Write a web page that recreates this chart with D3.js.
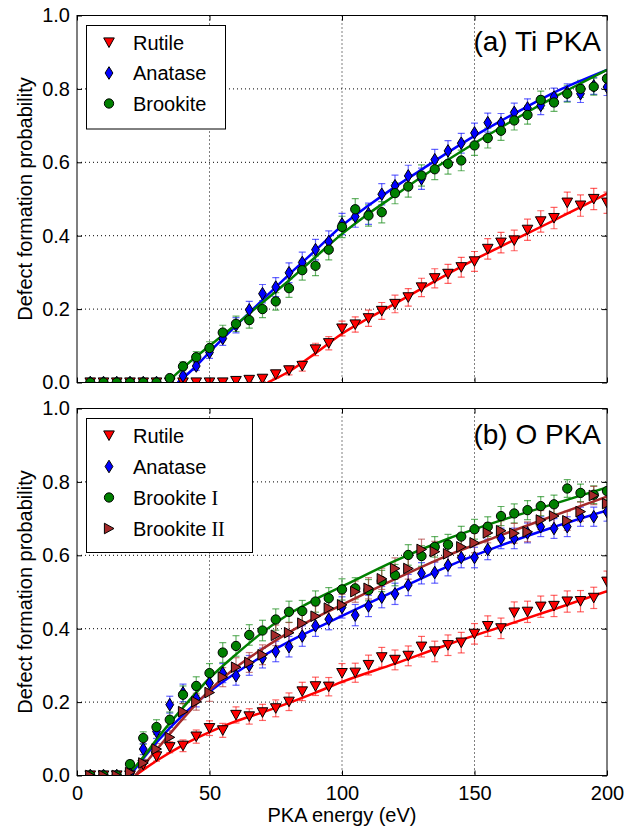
<!DOCTYPE html>
<html>
<head>
<meta charset="utf-8">
<script src="https://cdn.jsdelivr.net/npm/d3@7"></script>
<style>
  body { margin: 0; background: #fff; }
  svg { display: block; font-family: "Liberation Sans", Arial, sans-serif; }
</style>
</head>
<body>
<div id="chart"></div>
<script>
// PKA energies (eV)
const energy = [5, 10, 15, 20, 25, 30, 35, 40, 45, 50, 55, 60, 65, 70, 75, 80, 85, 90, 95, 100,
    105, 110, 115, 120, 125, 130, 135, 140, 145, 150, 155, 160, 165, 170, 175, 180, 185, 190, 195, 200];

// (a) Ti PKA
const tiRutile = [0, 0, 0, 0, 0, 0, 0, 0, 0, 0, 0, 0.004, 0.007, 0.01, 0.022, 0.033, 0.045, 0.09, 0.107, 0.147,
    0.158, 0.175, 0.195, 0.214, 0.232, 0.259, 0.284, 0.296, 0.314, 0.33, 0.364, 0.381, 0.387, 0.416, 0.439, 0.448, 0.49, 0.482, 0.5, 0.49];
const tiRutileErr = [0, 0, 0, 0, 0, 0, 0, 0, 0, 0, 0, 0.005, 0.006, 0.008, 0.01, 0.012, 0.014, 0.017, 0.018, 0.02,
    0.021, 0.022, 0.023, 0.024, 0.024, 0.025, 0.026, 0.026, 0.027, 0.027, 0.028, 0.028, 0.028, 0.029, 0.029, 0.029, 0.029, 0.029, 0.029, 0.029];
const tiAnatase = [0, 0, 0, 0, 0, 0, 0, 0.018, 0.045, 0.082, 0.12, 0.156, 0.198, 0.242, 0.26, 0.299, 0.327, 0.362, 0.384, 0.432,
    0.452, 0.46, 0.513, 0.536, 0.563, 0.555, 0.607, 0.631, 0.652, 0.68, 0.708, 0.707, 0.736, 0.748, 0.755, 0.778, 0.79, 0.787, 0.808, 0.805];
const tiAnataseErr = [0, 0, 0, 0, 0, 0, 0, 0.008, 0.012, 0.016, 0.019, 0.021, 0.023, 0.025, 0.026, 0.027, 0.028, 0.028, 0.029, 0.029,
    0.029, 0.029, 0.029, 0.029, 0.029, 0.029, 0.028, 0.028, 0.027, 0.027, 0.026, 0.026, 0.025, 0.025, 0.025, 0.024, 0.024, 0.024, 0.023, 0.023];
const tiBrookite = [0, 0, 0, 0, 0, 0, 0.012, 0.044, 0.069, 0.094, 0.136, 0.16, 0.17, 0.2, 0.221, 0.257, 0.306, 0.318, 0.362, 0.424,
    0.472, 0.455, 0.464, 0.516, 0.534, 0.564, 0.581, 0.596, 0.605, 0.646, 0.666, 0.686, 0.714, 0.729, 0.77, 0.763, 0.787, 0.8, 0.806, 0.828];
const tiBrookiteErr = [0, 0, 0, 0, 0, 0, 0.006, 0.012, 0.015, 0.017, 0.02, 0.021, 0.022, 0.023, 0.024, 0.025, 0.027, 0.027, 0.028, 0.029,
    0.029, 0.029, 0.029, 0.029, 0.029, 0.029, 0.028, 0.028, 0.028, 0.027, 0.027, 0.026, 0.026, 0.025, 0.024, 0.024, 0.023, 0.023, 0.023, 0.022];

// (a) fitted curves
const tiRutileFitE = [72, 80, 90, 100, 110, 120, 130, 140, 150, 160, 170, 180, 190, 200];
const tiRutileFit = [0, 0.03, 0.08, 0.133, 0.175, 0.215, 0.256, 0.296, 0.335, 0.371, 0.406, 0.442, 0.478, 0.515];
const tiAnataseFitE = [38, 45, 50, 60, 70, 80, 90, 100, 110, 120, 130, 140, 150, 160, 170, 180, 190, 200];
const tiAnataseFit = [0, 0.045, 0.083, 0.155, 0.225, 0.294, 0.36, 0.427, 0.482, 0.533, 0.58, 0.627, 0.672, 0.713, 0.752, 0.79, 0.822, 0.852];
const tiBrookiteFitE = [34, 40, 50, 60, 70, 80, 90, 100, 110, 120, 130, 140, 150, 160, 170, 180, 190, 200];
const tiBrookiteFit = [0, 0.04, 0.1, 0.158, 0.218, 0.278, 0.342, 0.405, 0.46, 0.51, 0.56, 0.607, 0.652, 0.695, 0.737, 0.777, 0.815, 0.852];

// (b) O PKA
const oRutile = [0, 0, 0, 0, 0.029, 0.052, 0.077, 0.081, 0.106, 0.129, 0.123, 0.165, 0.161, 0.172, 0.183, 0.201, 0.229, 0.243, 0.242, 0.279,
    0.28, 0.301, 0.322, 0.315, 0.326, 0.351, 0.338, 0.355, 0.362, 0.386, 0.407, 0.401, 0.444, 0.446, 0.46, 0.462, 0.474, 0.475, 0.484, 0.528];
const oRutileErr = [0, 0, 0, 0, 0.01, 0.013, 0.015, 0.016, 0.018, 0.02, 0.019, 0.022, 0.021, 0.022, 0.023, 0.024, 0.025, 0.025, 0.025, 0.026,
    0.026, 0.027, 0.027, 0.027, 0.027, 0.028, 0.028, 0.028, 0.028, 0.028, 0.028, 0.028, 0.029, 0.029, 0.029, 0.029, 0.029, 0.029, 0.029, 0.029];
const oAnatase = [0, 0, 0, 0.005, 0.072, 0.12, 0.193, 0.225, 0.21, 0.252, 0.279, 0.272, 0.3, 0.32, 0.338, 0.351, 0.38, 0.408, 0.426, 0.458,
    0.437, 0.462, 0.486, 0.495, 0.519, 0.551, 0.553, 0.573, 0.594, 0.594, 0.616, 0.646, 0.646, 0.661, 0.678, 0.673, 0.678, 0.705, 0.705, 0.719];
const oAnataseErr = [0, 0, 0, 0.004, 0.015, 0.019, 0.023, 0.024, 0.023, 0.025, 0.026, 0.026, 0.027, 0.027, 0.028, 0.028, 0.028, 0.029, 0.029, 0.029,
    0.029, 0.029, 0.029, 0.029, 0.029, 0.029, 0.029, 0.029, 0.028, 0.028, 0.028, 0.028, 0.028, 0.027, 0.027, 0.027, 0.027, 0.026, 0.026, 0.026];
const oBrookite1 = [0, 0, 0, 0.031, 0.102, 0.132, 0.152, 0.22, 0.244, 0.279, 0.335, 0.353, 0.383, 0.395, 0.425, 0.446, 0.448, 0.474, 0.483, 0.507,
    0.51, 0.505, 0.53, 0.546, 0.601, 0.598, 0.623, 0.629, 0.651, 0.671, 0.678, 0.707, 0.714, 0.723, 0.734, 0.739, 0.782, 0.77, 0.765, 0.775];
const oBrookite1Err = [0, 0, 0, 0.01, 0.017, 0.02, 0.021, 0.024, 0.025, 0.026, 0.027, 0.028, 0.028, 0.028, 0.029, 0.029, 0.029, 0.029, 0.029, 0.029,
    0.029, 0.029, 0.029, 0.029, 0.028, 0.028, 0.028, 0.028, 0.028, 0.027, 0.027, 0.026, 0.026, 0.026, 0.026, 0.025, 0.024, 0.024, 0.024, 0.024];
const oBrookite2 = [0, 0, 0, 0.008, 0.034, 0.072, 0.104, 0.174, 0.201, 0.226, 0.268, 0.295, 0.308, 0.329, 0.382, 0.389, 0.415, 0.434, 0.456, 0.465,
    0.501, 0.51, 0.536, 0.564, 0.564, 0.616, 0.61, 0.604, 0.623, 0.634, 0.661, 0.667, 0.66, 0.664, 0.696, 0.707, 0.694, 0.719, 0.763, 0.741];
const oBrookite2Err = [0, 0, 0, 0.005, 0.01, 0.015, 0.018, 0.022, 0.023, 0.024, 0.026, 0.026, 0.027, 0.027, 0.028, 0.028, 0.028, 0.029, 0.029, 0.029,
    0.029, 0.029, 0.029, 0.029, 0.029, 0.028, 0.028, 0.028, 0.028, 0.027, 0.027, 0.027, 0.027, 0.027, 0.026, 0.026, 0.026, 0.026, 0.025, 0.025];

// (b) fitted curves
const oRutileFitE = [22, 30, 40, 50, 60, 70, 80, 90, 100, 120, 140, 160, 180, 200];
const oRutileFit = [0, 0.04, 0.083, 0.118, 0.148, 0.172, 0.198, 0.226, 0.255, 0.305, 0.357, 0.405, 0.453, 0.502];
const oAnataseFitE = [20, 30, 40, 50, 60, 70, 80, 90, 100, 120, 140, 160, 180, 200];
const oAnataseFit = [0, 0.09, 0.165, 0.228, 0.28, 0.325, 0.365, 0.4, 0.435, 0.503, 0.57, 0.627, 0.677, 0.722];
const oBrookite1FitE = [19, 25, 30, 40, 50, 60, 70, 80, 90, 100, 120, 140, 160, 180, 200];
const oBrookite1Fit = [0, 0.05, 0.098, 0.185, 0.265, 0.33, 0.39, 0.44, 0.48, 0.515, 0.585, 0.645, 0.695, 0.74, 0.785];
const oBrookite2FitE = [22, 30, 40, 50, 60, 70, 80, 90, 100, 120, 140, 160, 180, 200];
const oBrookite2Fit = [0, 0.07, 0.155, 0.232, 0.295, 0.345, 0.39, 0.43, 0.465, 0.535, 0.6, 0.655, 0.708, 0.76];

const xTicks = [0, 50, 100, 150, 200];
const yTicks = [0, 0.2, 0.4, 0.6, 0.8, 1.0];

const W = 627, H = 834;
const left = 77, right = 607;
const panels = [
    {
        top: 15.5, label: '(a) Ti PKA', showX: false,
        series: [
            { name: 'Rutile', color: '#ff0000', marker: 'tdown', y: tiRutile, err: tiRutileErr, fitE: tiRutileFitE, fit: tiRutileFit },
            { name: 'Anatase', color: '#0000ff', marker: 'diamond', y: tiAnatase, err: tiAnataseErr, fitE: tiAnataseFitE, fit: tiAnataseFit },
            { name: 'Brookite', color: '#008000', marker: 'circle', y: tiBrookite, err: tiBrookiteErr, fitE: tiBrookiteFitE, fit: tiBrookiteFit }
        ]
    },
    {
        top: 408.5, label: '(b) O PKA', showX: true,
        series: [
            { name: 'Rutile', color: '#ff0000', marker: 'tdown', y: oRutile, err: oRutileErr, fitE: oRutileFitE, fit: oRutileFit },
            { name: 'Anatase', color: '#0000ff', marker: 'diamond', y: oAnatase, err: oAnataseErr, fitE: oAnataseFitE, fit: oAnataseFit },
            { name: 'Brookite', roman: 'I', color: '#008000', marker: 'circle', y: oBrookite1, err: oBrookite1Err, fitE: oBrookite1FitE, fit: oBrookite1Fit },
            { name: 'Brookite', roman: 'II', color: '#a52a2a', marker: 'tright', y: oBrookite2, err: oBrookite2Err, fitE: oBrookite2FitE, fit: oBrookite2Fit }
        ]
    }
];
const panelH = 367;

function markerPath(type) {
    if (type === 'tdown') return 'M0,5L-5.3,-4.6L5.3,-4.6Z';
    if (type === 'tright') return 'M5,0L-4.6,-5.3L-4.6,5.3Z';
    if (type === 'diamond') return 'M0,-6.3L3.9,0L0,6.3L-3.9,0Z';
    return d3.symbol(d3.symbolCircle, 68)();
}

const svg = d3.select('#chart').append('svg').attr('width', W).attr('height', H);

const x = d3.scaleLinear().domain([0, 200]).range([left, right]);

panels.forEach((p, pi) => {
    const y = d3.scaleLinear().domain([0, 1]).range([p.top + panelH, p.top]);
    const g = svg.append('g');

    // 网格
    g.append('g').selectAll('line').data(xTicks.slice(1, -1)).join('line')
        .attr('x1', d => x(d)).attr('x2', d => x(d))
        .attr('y1', p.top).attr('y2', p.top + panelH)
        .attr('stroke', '#000').attr('stroke-width', 1).attr('stroke-dasharray', '1,3');
    g.append('g').selectAll('line').data(yTicks.slice(1, -1)).join('line')
        .attr('x1', left).attr('x2', right)
        .attr('y1', d => y(d)).attr('y2', d => y(d))
        .attr('stroke', '#000').attr('stroke-width', 1).attr('stroke-dasharray', '1,3');

    const clipId = 'clip' + pi;
    svg.append('clipPath').attr('id', clipId)
        .append('rect').attr('x', left).attr('y', p.top).attr('width', right - left).attr('height', panelH);
    const plot = g.append('g').attr('clip-path', `url(#${clipId})`);

    // 误差棒
    p.series.forEach(s => {
        const eg = plot.append('g').attr('stroke', s.color).attr('stroke-opacity', 0.6).attr('stroke-width', 1.2);
        energy.forEach((e, i) => {
            if (!s.err[i]) return;
            const y1 = y(s.y[i] - s.err[i]), y2 = y(s.y[i] + s.err[i]);
            eg.append('line').attr('x1', x(e)).attr('x2', x(e)).attr('y1', y1).attr('y2', y2);
            eg.append('line').attr('x1', x(e) - 3.5).attr('x2', x(e) + 3.5).attr('y1', y1).attr('y2', y1);
            eg.append('line').attr('x1', x(e) - 3.5).attr('x2', x(e) + 3.5).attr('y1', y2).attr('y2', y2);
        });
    });

    // 拟合曲线
    const line = d3.line().x(d => x(d[0])).y(d => y(d[1])).curve(d3.curveMonotoneX);
    p.series.forEach(s => {
        plot.append('path')
            .datum(d3.zip(s.fitE, s.fit))
            .attr('fill', 'none').attr('stroke', s.color).attr('stroke-width', 2.5)
            .attr('d', line);
    });

    // 数据点
    p.series.forEach(s => {
        plot.append('g').selectAll('path').data(energy).join('path')
            .attr('d', markerPath(s.marker))
            .attr('transform', (e, i) => `translate(${x(e)},${y(s.y[i])})`)
            .attr('fill', s.color).attr('stroke', '#000').attr('stroke-width', 1);
    });

    // 轴
    const yAxis = d3.axisLeft(y).tickValues(yTicks).tickFormat(d3.format('.1f')).tickSize(-5).tickSizeOuter(0).tickPadding(7);
    g.append('g').attr('transform', `translate(${left},0)`).call(yAxis);
    g.append('g').attr('transform', `translate(${right},0)`)
        .call(d3.axisRight(y).tickValues(yTicks).tickSize(-5).tickSizeOuter(0).tickFormat(''));
    const xAxis = d3.axisBottom(x).tickValues(xTicks).tickSize(-5).tickSizeOuter(0).tickPadding(10);
    if (!p.showX) xAxis.tickFormat('');
    g.append('g').attr('transform', `translate(0,${p.top + panelH})`).call(xAxis);
    g.append('g').attr('transform', `translate(0,${p.top})`)
        .call(d3.axisTop(x).tickValues(xTicks).tickSize(-5).tickSizeOuter(0).tickFormat(''));
    g.selectAll('.domain').remove();
    g.selectAll('.tick line').attr('stroke', '#000');
    g.selectAll('.tick text').style('font-size', '20px').style('font-family', '"Liberation Sans", Arial, sans-serif').attr('fill', '#000');

    g.append('rect')
        .attr('x', left).attr('y', p.top).attr('width', right - left).attr('height', panelH)
        .attr('fill', 'none').attr('stroke', '#000').attr('stroke-width', 1);

    // 纵轴标题
    g.append('text')
        .attr('transform', `translate(32,${p.top + panelH / 2}) rotate(-90)`)
        .attr('text-anchor', 'middle')
        .style('font-size', '20px')
        .text('Defect formation probability');

    // 面板标签
    g.append('text')
        .attr('x', right - 6).attr('y', p.top + 35)
        .attr('text-anchor', 'end')
        .style('font-size', '28px')
        .text(p.label);

    // 图例
    const n = p.series.length;
    const lg = g.append('g');
    const boxW = n === 3 ? 139 : 166;
    const rowH = n === 3 ? 30.5 : 31;
    lg.append('rect')
        .attr('x', 86.5).attr('y', p.top + 10)
        .attr('width', boxW).attr('height', 16 + rowH * n - 6 + (n === 3 ? 2 : 0))
        .attr('fill', '#fff').attr('stroke', '#000').attr('stroke-width', 1);
    p.series.forEach((s, i) => {
        const cy = p.top + 27 + i * rowH;
        lg.append('path').attr('d', markerPath(s.marker))
            .attr('transform', `translate(109,${cy})`)
            .attr('fill', s.color).attr('stroke', '#000').attr('stroke-width', 1);
        const t = lg.append('text').attr('x', 133).attr('y', cy + 7).style('font-size', '20px');
        t.append('tspan').text(s.name);
        if (s.roman) {
            t.append('tspan').style('font-family', '"Liberation Serif", "Times New Roman", serif').text(' ' + s.roman);
        }
    });

    if (p.showX) {
        g.append('text')
            .attr('x', (left + right) / 2).attr('y', 822)
            .attr('text-anchor', 'middle')
            .style('font-size', '20px')
            .text('PKA energy (eV)');
    }
});
</script>
</body>
</html>
